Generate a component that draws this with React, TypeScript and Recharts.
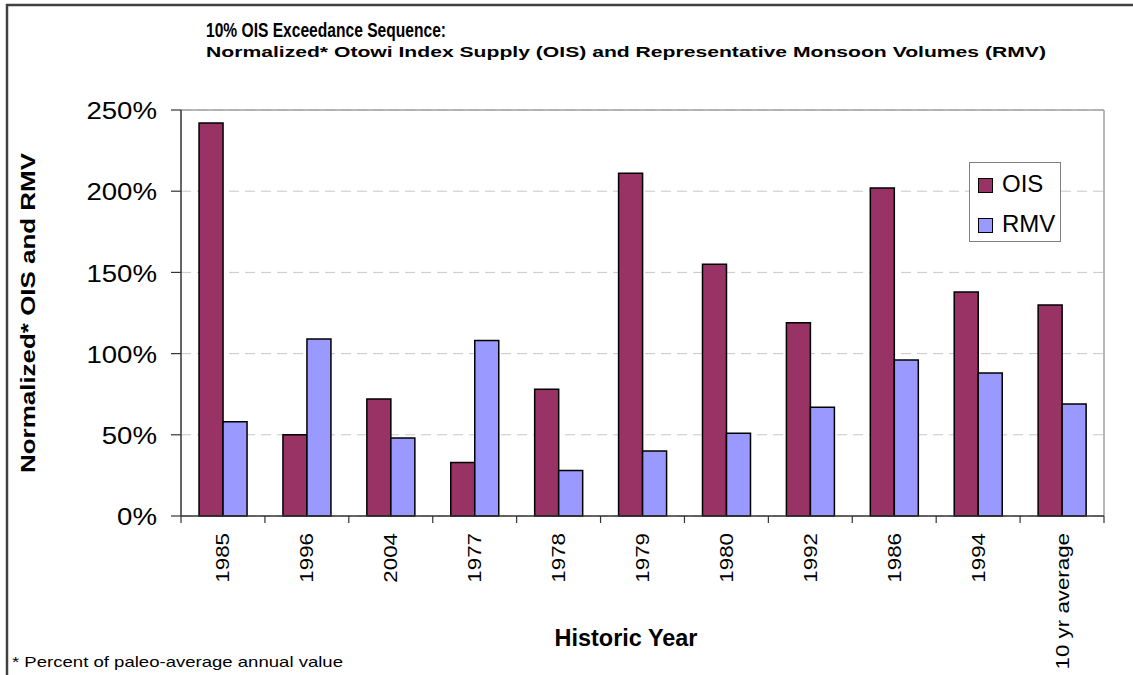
import React from "react";
import { BarChart, Bar, XAxis, YAxis, CartesianGrid, Legend, ReferenceLine } from "recharts";

// values (percent of paleo-average)
const years = ["1985", "1996", "2004", "1977", "1978", "1979", "1980", "1992", "1986", "1994", "10 yr average"];
const oisValues = [242, 50, 72, 33, 78, 211, 155, 119, 202, 138, 130];
const rmvValues = [58, 109, 48, 108, 28, 40, 51, 67, 96, 88, 69];
const yTicks = [0, 50, 100, 150, 200, 250];

const data = years.map((year, i) => ({ year, OIS: oisValues[i], RMV: rmvValues[i] }));

const FONT = "'Liberation Sans', Arial, sans-serif";
const AXIS = "#333333";

// category label plus Excel-style tick marks on the category boundaries
const XTick = (props: any) => {
  const { x, y, payload, index } = props;
  const half = payload.offset || 0;
  const last = index === years.length - 1;
  return (
    <g>
      <line x1={x - half} y1={y} x2={x - half} y2={y + 7} stroke={AXIS} strokeWidth={1.2} />
      {last && <line x1={x + half} y1={y} x2={x + half} y2={y + 7} stroke={AXIS} strokeWidth={1.2} />}
      <g transform={`translate(${x},${y + 17})`}>
        <text
          transform="rotate(-90) scale(1.24,1)"
          textAnchor="end"
          dy="0.36em"
          fontSize={18}
          fontFamily={FONT}
          fill="#000"
        >
          {payload.value}
        </text>
      </g>
    </g>
  );
};

const YTick = (props: any) => {
  const { x, y, payload } = props;
  return (
    <g transform={`translate(${x - 12},${y})`}>
      <text transform="scale(1.2,1)" textAnchor="end" dy="0.4em" fontSize={23} fontFamily={FONT} fill="#000">
        {`${payload.value}%`}
      </text>
    </g>
  );
};

const LegendBox = (props: any) => {
  const { payload } = props;
  return (
    <div
      style={{
        position: "relative",
        width: 92,
        height: 80,
        boxSizing: "border-box",
        border: "1px solid #808080",
        background: "#fff",
        fontFamily: FONT,
      }}
    >
      {(payload || []).map((entry: any, i: number) => (
        <div key={entry.value} style={{ position: "absolute", left: 8, top: 13 + i * 40, height: 22 }}>
          <div
            style={{
              position: "absolute",
              left: 0,
              top: 2,
              width: 15,
              height: 15,
              boxSizing: "border-box",
              background: entry.color,
              border: "1.5px solid #000",
            }}
          />
          <span style={{ position: "absolute", left: 24, top: -6, fontSize: 24, lineHeight: "28px", color: "#000" }}>
            {entry.value}
          </span>
        </div>
      ))}
    </div>
  );
};

export default function App() {
  return (
    <div style={{ position: "absolute", left: 0, top: 0, width: 1133, height: 675, background: "#fff" }}>
      <BarChart
        width={1133}
        height={675}
        data={data}
        margin={{ top: 110, right: 29, left: 121, bottom: 99 }}
        barGap={0}
        barCategoryGap="21.5%"
        style={{ position: "absolute", left: 0, top: 0 }}
      >
        <CartesianGrid
          xAxisId="cat"
          vertical={false}
          stroke="#c8c8c8"
          strokeDasharray="10 6"
        />
        <XAxis
          xAxisId="cat"
          dataKey="year"
          interval={0}
          tick={<XTick />}
          tickLine={false}
          tickSize={0}
          tickMargin={0}
          axisLine={{ stroke: AXIS, strokeWidth: 1.5 }}
          height={60}
        />
        <YAxis
          domain={[0, 250]}
          ticks={yTicks}
          tick={<YTick />}
          tickSize={10}
          tickLine={{ stroke: AXIS, strokeWidth: 1.2 }}
          axisLine={{ stroke: AXIS, strokeWidth: 1.5 }}
          width={60}
        />
        <ReferenceLine xAxisId="cat" y={250} stroke="#a0a0a0" strokeWidth={1.5} />
        <ReferenceLine
          xAxisId="cat"
          x={years[years.length - 1]}
          position="end"
          stroke="#a0a0a0"
          strokeWidth={1.5}
        />
        <Legend
          layout="vertical"
          align="center"
          verticalAlign="middle"
          content={<LegendBox />}
          wrapperStyle={{ position: "absolute", left: 969, top: 162, width: 92, height: 80 }}
        />
        <Bar xAxisId="cat" dataKey="OIS" name="OIS" fill="#993366" stroke="#000" strokeWidth={1.5} isAnimationActive={false} />
        <Bar xAxisId="cat" dataKey="RMV" name="RMV" fill="#9999ff" stroke="#000" strokeWidth={1.5} isAnimationActive={false} />
      </BarChart>

      <svg
        width={1133}
        height={675}
        style={{ position: "absolute", left: 0, top: 0, pointerEvents: "none" }}
        fontFamily={FONT}
      >
        <line x1={6} y1={5} x2={1133} y2={5} stroke="#404040" strokeWidth={2.5} />
        <line x1={7} y1={4} x2={7} y2={675} stroke="#404040" strokeWidth={2.5} />
        <text x={206} y={37} fontSize={21} fontWeight="bold" textLength={240} lengthAdjust="spacingAndGlyphs">
          10% OIS Exceedance Sequence:
        </text>
        <text x={206} y={57} fontSize={15} fontWeight="bold" textLength={840} lengthAdjust="spacingAndGlyphs">
          Normalized* Otowi Index Supply (OIS) and Representative Monsoon Volumes (RMV)
        </text>
        <text
          transform="translate(35,313) rotate(-90)"
          textAnchor="middle"
          fontSize={21}
          fontWeight="bold"
          textLength={320}
          lengthAdjust="spacingAndGlyphs"
        >
          Normalized* OIS and RMV
        </text>
        <text
          x={626}
          y={646}
          textAnchor="middle"
          fontSize={23}
          fontWeight="bold"
          textLength={143}
          lengthAdjust="spacingAndGlyphs"
        >
          Historic Year
        </text>
        <text x={12} y={667} fontSize={15} textLength={331} lengthAdjust="spacingAndGlyphs">
          * Percent of paleo-average annual value
        </text>
      </svg>
    </div>
  );
}
